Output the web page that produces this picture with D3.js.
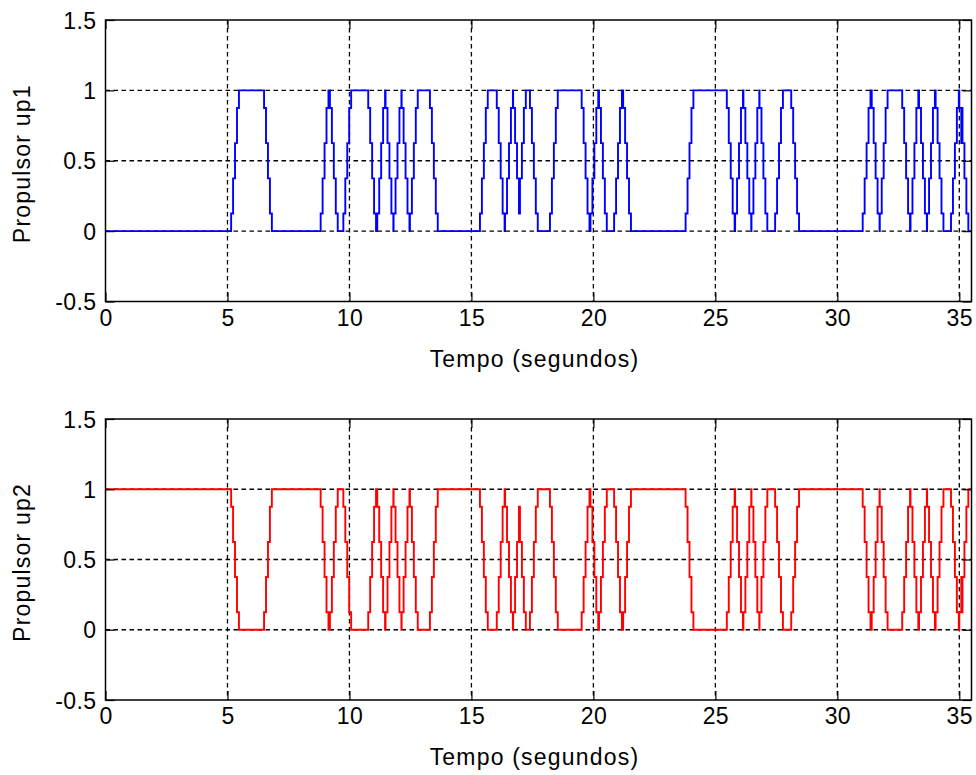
<!DOCTYPE html>
<html>
<head>
<meta charset="utf-8">
<script src="https://cdn.jsdelivr.net/npm/d3@7/dist/d3.min.js"></script>
<style>
  html, body { margin: 0; padding: 0; background: #fff; }
  svg { display: block; }
  text { font-family: "Liberation Sans", Arial, Helvetica, sans-serif; fill: #000; }
</style>
</head>
<body>
<svg id="chart" width="976" height="775"></svg>
<script>
// ---------------- data ----------------
const xTicks = [0, 5, 10, 15, 20, 25, 30, 35];
const yTicks = [-0.5, 0, 0.5, 1, 1.5];
const xDomain = [0, 35.5];
const yDomain = [-0.5, 1.5];
const xLabel = "Tempo (segundos)";
const yLabels = ["Propulsor up1", "Propulsor up2"];

// quantised levels the thrust command steps through, and the step period (s)
const stepLevels = [0, 0.125, 0.375, 0.625, 0.875, 1];
const stepPeriod = 0.08;

// switching instants (s) and the level each switch heads to
const up1Start = 0;
const up1Times = [5.15, 6.50, 8.82, 9.20, 9.75, 10.77, 11.14, 11.48, 11.81, 12.14,
  12.48, 13.30, 15.35, 16.04, 16.38, 16.71, 16.99, 17.40, 18.22, 19.52,
  19.88, 20.23, 20.85, 21.22, 23.78, 25.47, 25.81, 26.15, 26.48, 26.81,
  27.45, 28.11, 31.04, 31.41, 31.74, 32.66, 33.00, 33.35, 33.68, 34.03,
  34.66, 35.00, 35.10, 35.13];
const up1Targets = [1, 0, 1, 0, 1, 0, 1, 0, 1, 0,
  1, 0, 1, 0, 1, 0, 1, 0, 1, 0,
  1, 0, 1, 0, 1, 0, 1, 0, 1, 0,
  1, 0, 1, 0, 1, 0, 1, 0, 1, 0,
  1, 0, 1, 0];

const up2Start = 1;
const up2Times = [5.15, 6.50, 8.82, 9.20, 9.75, 10.77, 11.14, 11.48, 11.81, 12.14,
  12.48, 13.30, 15.35, 16.04, 16.38, 16.71, 16.99, 17.40, 18.22, 19.52,
  19.88, 20.23, 20.85, 21.22, 23.78, 25.47, 25.81, 26.15, 26.48, 26.81,
  27.45, 28.11, 31.04, 31.41, 31.74, 32.66, 33.00, 33.35, 33.68, 34.03,
  34.66, 35.00, 35.10, 35.13];
const up2Targets = [0, 1, 0, 1, 0, 1, 0, 1, 0, 1,
  0, 1, 0, 1, 0, 1, 0, 1, 0, 1,
  0, 1, 0, 1, 0, 1, 0, 1, 0, 1,
  0, 1, 0, 1, 0, 1, 0, 1, 0, 1,
  0, 1, 0, 1];

// build the sample-and-hold breakpoints from the switching record
function buildSeries(start, times, targets) {
  let li = stepLevels.indexOf(start);
  const pts = [[xDomain[0], stepLevels[li]]];
  times.forEach((t, i) => {
    const ti = stepLevels.indexOf(targets[i]);
    const end = i + 1 < times.length ? times[i + 1] : Infinity;
    let k = 0;
    while (li !== ti && t + k * stepPeriod < end - 1e-9) {
      li += ti > li ? 1 : -1;
      pts.push([t + k * stepPeriod, stepLevels[li]]);
      k++;
    }
  });
  pts.push([xDomain[1], stepLevels[li]]);
  return pts;
}

const series = [
  { data: buildSeries(up1Start, up1Times, up1Targets), color: "#0000ff", label: yLabels[0] },
  { data: buildSeries(up2Start, up2Times, up2Targets), color: "#ff0000", label: yLabels[1] }
];

// ---------------- layout ----------------
const svg = d3.select("#chart");
const left = 105.5, right = 971.5;
const panels = [{ top: 20, bottom: 301.5 }, { top: 419, bottom: 700 }];
const fontSize = 23;
const tickLen = 9;

const x = d3.scaleLinear().domain(xDomain).range([left, right]);

panels.forEach((p, idx) => {
  const y = d3.scaleLinear().domain(yDomain).range([p.bottom, p.top]);
  const g = svg.append("g");

  // grid
  g.selectAll(".gx").data(xTicks.filter(v => v > xDomain[0] && v < xDomain[1]))
    .join("line")
    .attr("x1", d => x(d)).attr("x2", d => x(d))
    .attr("y1", p.top).attr("y2", p.bottom)
    .attr("stroke", "#000").attr("stroke-width", 1.3)
    .attr("stroke-dasharray", "4.5,3.5");
  g.selectAll(".gy").data(yTicks.filter(v => v > yDomain[0] && v < yDomain[1]))
    .join("line")
    .attr("y1", d => y(d)).attr("y2", d => y(d))
    .attr("x1", left).attr("x2", right)
    .attr("stroke", "#000").attr("stroke-width", 1.3)
    .attr("stroke-dasharray", "4.5,3.5");

  // data line
  const s = series[idx];
  const line = d3.line().x(d => x(d[0])).y(d => y(d[1])).curve(d3.curveStepAfter);
  g.append("path").datum(s.data)
    .attr("d", line)
    .attr("fill", "none")
    .attr("stroke", s.color)
    .attr("stroke-width", 1.9)
    .attr("stroke-linejoin", "miter");

  // axes (ticks inward, labels outside)
  const axB = d3.axisBottom(x).tickValues(xTicks).tickSizeInner(-tickLen).tickSizeOuter(0).tickPadding(8);
  const axT = d3.axisTop(x).tickValues(xTicks).tickSizeInner(-tickLen).tickSizeOuter(0).tickFormat("");
  const axL = d3.axisLeft(y).tickValues(yTicks).tickSizeInner(-tickLen).tickSizeOuter(0).tickPadding(9).tickFormat(d3.format(""));
  const axR = d3.axisRight(y).tickValues(yTicks).tickSizeInner(-tickLen).tickSizeOuter(0).tickFormat("");

  const gb = g.append("g").attr("transform", `translate(0,${p.bottom})`).call(axB);
  const gt = g.append("g").attr("transform", `translate(0,${p.top})`).call(axT);
  const gl = g.append("g").attr("transform", `translate(${left},0)`).call(axL);
  const gr = g.append("g").attr("transform", `translate(${right},0)`).call(axR);
  [gb, gt, gl, gr].forEach(a => {
    a.select(".domain").remove();
    a.selectAll(".tick line").attr("stroke", "#000").attr("stroke-width", 1.2);
    a.selectAll("text").attr("font-size", fontSize).attr("fill", "#000")
      .attr("letter-spacing", 0.4)
      .style("font-family", '"Liberation Sans", Arial, sans-serif');
  });
  gl.selectAll("text").attr("dy", "0.35em").text(d => d3.format("")(d).replace("\u2212", "-"));

  // box
  g.append("rect")
    .attr("x", left).attr("y", p.top)
    .attr("width", right - left).attr("height", p.bottom - p.top)
    .attr("fill", "none").attr("stroke", "#000").attr("stroke-width", 1.5);

  // labels
  g.append("text")
    .attr("x", (left + right) / 2 - 4).attr("y", p.bottom + 65)
    .attr("text-anchor", "middle").attr("font-size", fontSize)
    .attr("letter-spacing", 1.2)
    .text(xLabel);
  g.append("text")
    .attr("transform", `translate(30,${(p.top + p.bottom) / 2 + 3}) rotate(-90)`)
    .attr("text-anchor", "middle").attr("font-size", fontSize)
    .attr("letter-spacing", 1.2)
    .text(s.label);
});
</script>
</body>
</html>
